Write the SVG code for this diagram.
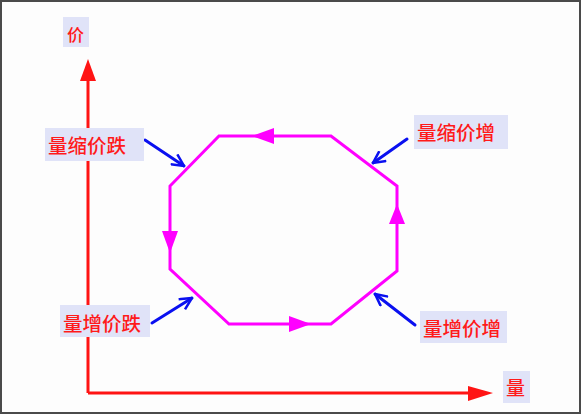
<svg xmlns="http://www.w3.org/2000/svg" width="581" height="415" viewBox="0 0 581 415">
<defs>
<style>
.box{fill:#e0e3f8}
.lbl{fill:#ff1a1a;font-family:"Noto Sans CJK SC","Noto Sans CJK JP",sans-serif;font-size:19.5px;font-weight:500;dominant-baseline:central}
.axis{stroke:#ff1414;stroke-width:3;fill:none}
.cyc{stroke:#ff00ff;stroke-width:3;fill:none;stroke-linejoin:miter}
.ptr{stroke:#0a10f0;stroke-width:3;fill:none;stroke-linecap:round}
.ah{fill:#ff00ff}
</style>
<marker id="blue" viewBox="0 0 14 14" refX="13" refY="7" markerWidth="14" markerHeight="14" markerUnits="userSpaceOnUse" orient="auto">
<polyline points="1,1 13,7 1,13" fill="none" stroke="#0a10f0" stroke-width="2.5"/>
</marker>
</defs>
<rect x="1" y="1" width="579" height="412" fill="#fdfdfd" stroke="#4a4a4a" stroke-width="2"/>
<g id="axes">
<path class="axis" d="M88,393 V78 M88,393 H470"/>
<polygon points="88,59 80,81 96,81" fill="#ff1414"/>
<polygon points="493,393 468,386 468,401" fill="#ff1414"/>
</g>
<g id="cycle">
<polygon class="cyc" points="219,136 331,136 397,186 397,271 331,324 229,324 170,269 170,186"/>
<polygon class="ah" points="252,136 274,128 274,144"/>
<polygon class="ah" points="170,253 162,231 178,231"/>
<polygon class="ah" points="397,204 389,224 405,224"/>
<polygon class="ah" points="311,324 289,316 289,332"/>
</g>
<g id="connectors">
<line class="ptr" x1="145" y1="140" x2="184" y2="166" marker-end="url(#blue)"/>
<line class="ptr" x1="407" y1="139" x2="373" y2="163" marker-end="url(#blue)"/>
<line class="ptr" x1="152" y1="323" x2="192" y2="298" marker-end="url(#blue)"/>
<line class="ptr" x1="415" y1="325" x2="375" y2="294" marker-end="url(#blue)"/>
</g>
<g id="label-price">
<rect class="box" x="63" y="17" width="26" height="30"/>
<text class="lbl" x="67" y="33" style="font-size:17px">价</text>
</g>
<g id="label-volume">
<rect class="box" x="503" y="371" width="27" height="32"/>
<text class="lbl" x="506" y="386" style="font-size:19px">量</text>
</g>
<g id="label-ul">
<rect class="box" x="45" y="128" width="99" height="33"/>
<text class="lbl" x="48" y="144">量缩价跌</text>
</g>
<g id="label-ur">
<rect class="box" x="414" y="115" width="94" height="34"/>
<text class="lbl" x="417" y="131">量缩价增</text>
</g>
<g id="label-ll">
<rect class="box" x="60" y="305" width="90" height="32"/>
<text class="lbl" x="63" y="322">量增价跌</text>
</g>
<g id="label-lr">
<rect class="box" x="420" y="311" width="87" height="32"/>
<text class="lbl" x="423" y="327">量增价增</text>
</g>
</svg>
